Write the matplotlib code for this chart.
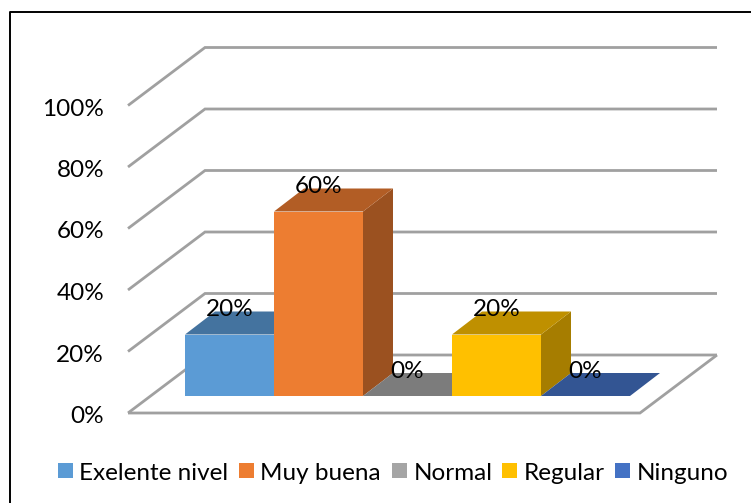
import matplotlib
matplotlib.use("Agg")
import matplotlib.pyplot as plt
from matplotlib.patches import Polygon, Rectangle

categories = ["Exelente nivel", "Muy buena", "Normal", "Regular", "Ninguno"]
values = [20, 60, 0, 20, 0]
labels = ["20%", "60%", "0%", "20%", "0%"]
yticks = [0, 20, 40, 60, 80, 100]
ytick_labels = ["0%", "20%", "40%", "60%", "80%", "100%"]
front_colors = ["#5B9BD5", "#ED7D31", "#A5A5A5", "#FFC000", "#4472C4"]
top_colors = ["#44739F", "#B25D25", "#7C7C7C", "#BF9000", "#335593"]
side_colors = ["#3E6A92", "#9B5120", "#6C6C6C", "#A67D00", "#2D4B80"]

W, H = 751, 503
PX_X, PX_Y = 89.0, 3.075      # pixels per category, pixels per percent
X0, Y0 = 185.0, 413.0         # pixel of category 0 left edge and of 0% on the front
fig = plt.figure(figsize=(W / 100, H / 100), dpi=100)
ax = fig.add_axes([0, 0, 1, 1])
ax.set_xlim(-X0 / PX_X, (W - X0) / PX_X)
ax.set_ylim((Y0 - H) / PX_Y, Y0 / PX_Y)
ax.axis("off")
FONT = "Lato"
FS = 17.5

# figure border, in axes fractions
ax.plot([10 / W, 10 / W, 1], [0, 1 - 12 / H, 1 - 12 / H], transform=ax.transAxes,
        color="black", lw=1.4, clip_on=False, zorder=1)

# floor / walls
fx0 = (128 - X0) / PX_X
fx1 = (640 - X0) / PX_X
ddx, ddy = 77 / PX_X, 58 / PX_Y
grid = "#A0A0A0"
for v in yticks:
    ax.plot([fx0, fx0 + ddx, fx1 + ddx], [v, v + ddy, v + ddy], color=grid, lw=2.0,
            solid_joinstyle="miter", solid_capstyle="butt", zorder=2)
ax.plot([fx0, fx1, fx1 + ddx], [0, 0, ddy], color=grid, lw=2.0,
        solid_joinstyle="miter", solid_capstyle="butt", zorder=2)
for v, t in zip(yticks, ytick_labels):
    ax.text((104 - X0) / PX_X, v - 3.5 / PX_Y, t, ha="right", va="center", fontsize=FS,
            family=FONT, color="black", zorder=6)

# bars
base = 17 / PX_Y
bdx, bdy = 30 / PX_X, 23 / PX_Y
for i, (v, cf, ct, cs) in enumerate(zip(values, front_colors, top_colors, side_colors)):
    top = base + v
    ax.add_patch(Polygon([(i + 1, base), (i + 1 + bdx, base + bdy), (i + 1 + bdx, top + bdy), (i + 1, top)],
                         closed=True, fc=cs, ec="none", zorder=3 + i * 0.1))
    ax.add_patch(Polygon([(i, top), (i + bdx, top + bdy), (i + 1 + bdx, top + bdy), (i + 1, top)],
                         closed=True, fc=ct, ec="none", zorder=3 + i * 0.1))
    if v > 0:
        ax.add_patch(Rectangle((i, base), 1, v, fc=cf, ec="none", zorder=3.05 + i * 0.1))

# data labels
for i, (v, t) in enumerate(zip(values, labels)):
    ax.text(i + 0.5, base + v + 25 / PX_Y, t, ha="center", va="center", fontsize=FS,
            family=FONT, color="black", zorder=6)

# legend
lx = [58, 239, 392, 502, 615]
tx = [79, 260, 414, 524, 637]
ly = 470.5
for x, t_x, name, c in zip(lx, tx, categories, front_colors):
    ax.add_patch(Rectangle(((x - X0) / PX_X, (Y0 - (ly + 7.5)) / PX_Y), 15 / PX_X, 15 / PX_Y,
                           fc=c, ec="none", zorder=6))
    ax.text((t_x - X0) / PX_X, (Y0 - ly - 2.5) / PX_Y, name, ha="left", va="center", fontsize=FS,
            family=FONT, color="black", zorder=6)

fig.savefig("out.png", dpi=100)
